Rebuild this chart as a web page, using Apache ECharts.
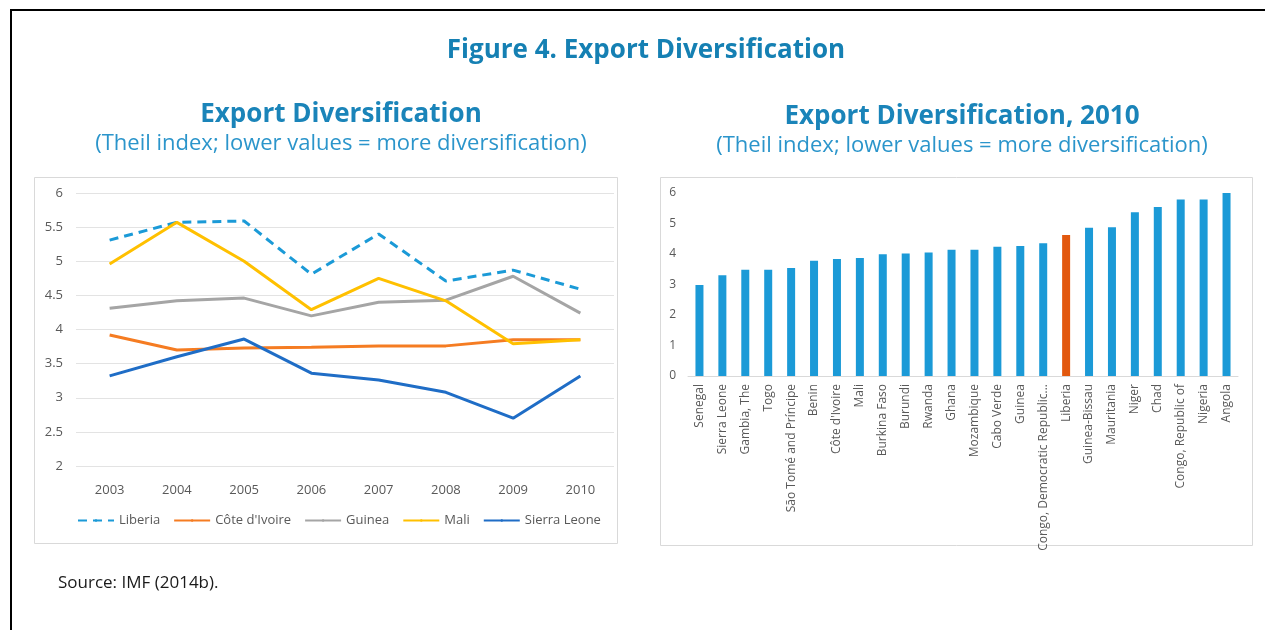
<!DOCTYPE html>
<html>
<head>
<meta charset="utf-8">
<script src="https://cdn.jsdelivr.net/npm/echarts@6/dist/echarts.min.js"></script>
<style>
  html, body { margin: 0; padding: 0; background: #fff; }
  #chart { width: 1265px; height: 630px; }
</style>
</head>
<body>
<div id="chart"></div>
<script>
// left panel: Theil index by year
const years = ['2003', '2004', '2005', '2006', '2007', '2008', '2009', '2010']
const liberia = [5.31, 5.57, 5.59, 4.81, 5.40, 4.71, 4.87, 4.59]
const coteDIvoire = [3.92, 3.70, 3.73, 3.74, 3.76, 3.76, 3.85, 3.85]
const guinea = [4.31, 4.42, 4.46, 4.20, 4.40, 4.43, 4.78, 4.24]
const mali = [4.96, 5.57, 5.00, 4.29, 4.75, 4.42, 3.79, 3.85]
const sierraLeone = [3.32, 3.60, 3.86, 3.36, 3.26, 3.08, 2.70, 3.32]

// right panel: 2010 cross-section
const countries = [
  'Senegal', 'Sierra Leone', 'Gambia, The', 'Togo', 'São Tomé and Príncipe', 'Benin',
  "Côte d'Ivoire", 'Mali', 'Burkina Faso', 'Burundi', 'Rwanda', 'Ghana', 'Mozambique',
  'Cabo Verde', 'Guinea', 'Congo, Democratic Republic of', 'Liberia', 'Guinea-Bissau',
  'Mauritania', 'Niger', 'Chad', 'Congo, Republic of', 'Nigeria', 'Angola'
]
const theil2010 = [
  2.98, 3.30, 3.48, 3.48, 3.54, 3.78, 3.84, 3.87, 3.99, 4.02, 4.05, 4.14, 4.14,
  4.24, 4.26, 4.35, 4.62, 4.86, 4.88, 5.37, 5.54, 5.79, 5.79, 6.0
]
const highlight = 'Liberia'

const FONT = '"Open Sans", "Noto Sans", sans-serif'
const AXIS_GRAY = '#595959'

const chart = echarts.init(document.getElementById('chart'), null, { renderer: 'canvas' })

function lineSeries(name, data, color, dashed) {
  return {
    name,
    type: 'line',
    xAxisIndex: 0,
    yAxisIndex: 0,
    data,
    symbol: 'none',
    smooth: false,
    lineStyle: { color, width: 3, type: dashed ? [9, 6] : 'solid' },
    itemStyle: { color },
  }
}

chart.setOption({
  animation: false,
  textStyle: { fontFamily: FONT },
  title: [
    {
      text: 'Figure 4. Export Diversification',
      left: 641, top: 33, textAlign: 'center',
      textStyle: { color: '#1580b3', fontSize: 26, fontWeight: 'bold', fontFamily: FONT },
    },
    {
      text: 'Export Diversification',
      subtext: '(Theil index; lower values = more diversification)',
      left: 336, top: 97, textAlign: 'center', itemGap: 5,
      textStyle: { color: '#1a84b9', fontSize: 26, fontWeight: 'bold', fontFamily: FONT },
      subtextStyle: { color: '#2b95cb', fontSize: 22, fontFamily: FONT },
    },
    {
      text: 'Export Diversification, 2010',
      subtext: '(Theil index; lower values = more diversification)',
      left: 957, top: 99, textAlign: 'center', itemGap: 5,
      textStyle: { color: '#1a84b9', fontSize: 26, fontWeight: 'bold', fontFamily: FONT },
      subtextStyle: { color: '#2b95cb', fontSize: 22, fontFamily: FONT },
    },
    {
      text: 'Source: IMF (2014b).',
      left: 53, top: 570,
      textStyle: { color: '#1a1a1a', fontSize: 17, fontWeight: 'normal', fontFamily: FONT },
    },
  ],
  legend: {
    data: ['Liberia', "Côte d'Ivoire", 'Guinea', 'Mali', 'Sierra Leone'],
    left: 72, top: 509,
    itemWidth: 36, itemHeight: 3, itemGap: 13,
    textStyle: { color: AXIS_GRAY, fontSize: 13, fontFamily: FONT },
  },
  graphic: [
    // outer frame (top and left edges only visible)
    { type: 'line', shape: { x1: 10, y1: 10, x2: 1265, y2: 10 }, style: { stroke: '#000', lineWidth: 2 } },
    { type: 'line', shape: { x1: 11, y1: 10, x2: 11, y2: 630 }, style: { stroke: '#000', lineWidth: 2 } },
    // panel boxes
    { type: 'rect', z: -1, shape: { x: 34.5, y: 177.5, width: 583, height: 366 }, style: { fill: '#fff', stroke: '#d9d9d9', lineWidth: 1 } },
    { type: 'rect', z: -1, shape: { x: 660.5, y: 177.5, width: 592, height: 368 }, style: { fill: '#fff', stroke: '#d9d9d9', lineWidth: 1 } },
  ],
  grid: [
    { left: 76, top: 193, width: 538, height: 273 },
    { left: 688, top: 193, width: 550, height: 183 },
  ],
  xAxis: [
    {
      type: 'category', gridIndex: 0, data: years, boundaryGap: true,
      axisLine: { show: false }, axisTick: { show: false },
      axisLabel: { color: AXIS_GRAY, fontSize: 13, margin: 18, fontFamily: FONT },
    },
    {
      type: 'category', gridIndex: 1, data: countries, boundaryGap: true,
      axisLine: { show: true, lineStyle: { color: '#d9d9d9', width: 1 } },
      axisTick: { show: false },
      axisLabel: {
        color: AXIS_GRAY, fontSize: 12, rotate: 90, interval: 0, margin: 8,
        width: 170, overflow: 'truncate', ellipsis: '...', fontFamily: FONT,
      },
    },
  ],
  yAxis: [
    {
      type: 'value', gridIndex: 0, min: 2, max: 6, interval: 0.5,
      axisLine: { show: false }, axisTick: { show: false },
      axisLabel: { color: AXIS_GRAY, fontSize: 13, margin: 13, fontFamily: FONT },
      splitLine: { lineStyle: { color: '#e3e3e3', width: 1 } },
    },
    {
      type: 'value', gridIndex: 1, min: 0, max: 6, interval: 1,
      axisLine: { show: false }, axisTick: { show: false },
      axisLabel: { color: AXIS_GRAY, fontSize: 12, margin: 12, fontFamily: FONT },
      splitLine: { show: false },
    },
  ],
  series: [
    lineSeries('Liberia', liberia, '#1b9ad7', true),
    lineSeries("Côte d'Ivoire", coteDIvoire, '#f57c22', false),
    lineSeries('Guinea', guinea, '#a5a5a5', false),
    lineSeries('Mali', mali, '#ffc000', false),
    lineSeries('Sierra Leone', sierraLeone, '#1f6dc6', false),
    {
      type: 'bar',
      xAxisIndex: 1,
      yAxisIndex: 1,
      barWidth: 8,
      data: theil2010.map((v, i) => ({
        value: v,
        itemStyle: { color: countries[i] === highlight ? '#e2580e' : '#1b9ad7' },
      })),
    },
  ],
})
</script>
</body>
</html>
